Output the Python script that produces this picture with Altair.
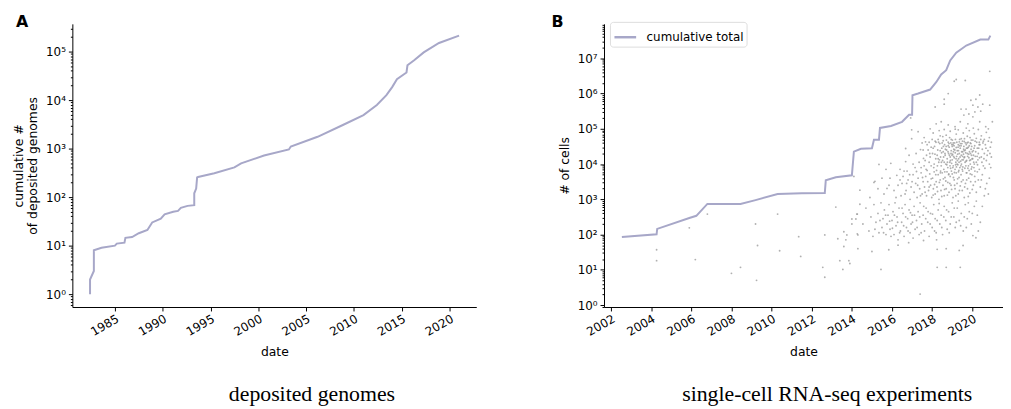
import altair as alt
import pandas as pd

# ---------------- Panel A: cumulative deposited genomes ----------------
genome_year = [1982.4, 1982.4, 1982.8, 1982.8, 1983.6, 1985.0, 1985.2, 1986.0, 1986.1, 1986.8,
               1987.5, 1988.4, 1988.9, 1989.8, 1990.2, 1991.1, 1991.6, 1991.9, 1992.6, 1993.3,
               1993.3, 1993.5, 1993.6, 1993.7, 1995.4, 1997.5, 1998.2, 2000.6, 2003.2, 2003.4,
               2006.2, 2008.9, 2011.0, 2012.4, 2013.4, 2014.0, 2014.5, 2015.5, 2015.6, 2016.3,
               2017.3, 2018.9, 2021.0]
genome_count = [1, 2, 3, 8, 9, 10, 11, 11.5, 14.5, 15,
                18, 21, 30, 36, 44, 50, 52, 60, 66, 68,
                120, 150, 255, 260, 310, 410, 495, 720, 960, 1100,
                1750, 3100, 4900, 7900, 12600, 18500, 27000, 37000, 52000, 66000,
                96000, 150000, 213000]

# ---------------- Panel B: single-cell RNA-seq experiments ----------------
cells_year = [2002.54, 2004.27, 2004.3, 2005.9, 2006.25, 2006.8, 2008.45, 2009.2, 2010.3, 2011.5,
              2012.65, 2012.7, 2013.2, 2014.0, 2014.1, 2014.45, 2015.0, 2015.1, 2015.35, 2015.4,
              2015.95, 2016.5, 2016.85, 2017.0, 2017.02, 2017.3, 2017.9, 2018.2, 2018.45, 2018.7,
              2018.9, 2019.2, 2019.7, 2020.4, 2020.8, 2020.9]
cells_total = [85, 102, 145, 296, 340, 740, 740, 950, 1410, 1480,
               1500, 3450, 4200, 4800, 22500, 27000, 28000, 49000, 49000, 106000,
               120000, 158000, 250000, 250000, 900000, 1.0e6, 1.3e6, 2.1e6, 3.5e6, 4.6e6,
               8.7e6, 1.45e7, 2.3e7, 3.4e7, 3.4e7, 4.4e7]

# individual experiments: (year, log10 # of cells)
scatter_early = [
    (2004.27, 1.57), (2004.27, 1.26), (2005.9, 2.19), (2006.2, 1.29), (2006.8, 2.58), (2008.0, 0.9),
    (2008.45, 1.07), (2009.2, 2.3), (2009.3, 1.69), (2009.25, 0.7), (2010.3, 2.58), (2010.4, 1.54),
    (2011.35, 1.94), (2011.45, 1.38), (2012.55, 1.07), (2012.65, 0.79), (2012.65, 1.99), (2013.2, 2.78),
    (2013.3, 1.88), (2013.4, 1.26), (2013.55, 1.01), (2013.6, 1.66), (2013.6, 2.08), (2013.7, 1.85),
    (2013.75, 1.99), (2013.85, 1.26), (2013.9, 1.18), (2014.0, 2.3), (2014.0, 2.44), (2014.1, 3.65),
    (2014.2, 2.44), (2014.25, 2.58), (2014.3, 1.99), (2014.4, 3.26), (2014.4, 2.86),
]
scatter_sparse_low = [
    (2015.0, 1.52), (2015.84, 1.57), (2018.7, 1.6), (2019.54, 1.69), (2016.83, 1.77), (2017.57, 1.83),
    (2015.45, 1.01), (2018.25, 1.07), (2018.7, 1.07), (2019.4, 1.07), (2017.4, 0.31), (2014.3, 1.6),
    (2016.3, 1.7), (2018.25, 1.58), (2019.35, 1.55), (2020.18, 1.91), (2020.03, 1.97), (2018.2, 2.05),
    (2014.27, 2.02), (2014.27, 2.58),
]
scatter_low = [
    (2014.55, 2.3), (2014.7, 2.75), (2014.85, 2.1), (2014.95, 2.5), (2015.05, 1.95), (2015.1, 2.85),
    (2015.2, 2.35), (2015.3, 2.6), (2015.35, 2.05), (2015.45, 2.9), (2015.5, 2.2), (2015.55, 2.45),
    (2015.62, 2.7), (2015.7, 2.0), (2015.75, 2.3), (2015.8, 2.55), (2015.85, 2.85), (2015.9, 2.15),
    (2015.95, 1.95), (2016.0, 2.4), (2016.05, 2.65), (2016.1, 2.0), (2016.15, 2.9), (2016.2, 2.25),
    (2016.25, 2.5), (2016.3, 1.85), (2016.35, 2.75), (2016.42, 2.1), (2016.48, 2.35), (2016.55, 2.6),
    (2016.6, 1.95), (2016.65, 2.85), (2016.72, 2.2), (2016.78, 2.45), (2016.85, 2.7), (2016.9, 2.05),
    (2016.95, 2.3), (2017.0, 2.55), (2017.05, 1.9), (2017.1, 2.8), (2017.15, 2.15), (2017.22, 2.4),
    (2017.3, 2.65), (2017.35, 2.0), (2017.4, 2.9), (2017.48, 2.3), (2017.55, 2.55), (2017.62, 2.1),
    (2017.7, 2.75), (2017.78, 2.35), (2017.85, 1.95), (2017.92, 2.6), (2018.0, 2.2), (2018.08, 2.85),
    (2018.15, 2.45), (2018.22, 1.85), (2018.3, 2.7), (2018.38, 2.3), (2018.45, 2.55), (2018.52, 2.0),
    (2018.6, 2.8), (2018.68, 2.4), (2018.75, 2.15), (2018.82, 2.65), (2018.9, 2.3), (2019.0, 2.9),
    (2019.08, 2.5), (2019.15, 2.2), (2019.25, 2.75), (2019.35, 2.4), (2019.45, 2.6), (2019.55, 2.1),
    (2019.65, 2.85), (2019.75, 2.45), (2019.85, 2.65), (2019.95, 2.3), (2020.1, 2.8), (2020.25, 2.55),
    (2020.4, 2.35), (2020.3, 2.1),
]
scatter_low2 = [
    (2015.15, 2.15), (2015.4, 2.4), (2015.58, 2.05), (2015.68, 2.55), (2015.88, 2.38), (2016.02, 2.18),
    (2016.12, 2.55), (2016.28, 2.35), (2016.38, 2.05), (2016.5, 2.75), (2016.58, 2.25), (2016.68, 2.5),
    (2016.8, 2.1), (2016.92, 2.62), (2017.02, 2.35), (2017.12, 2.55), (2017.25, 2.2), (2017.38, 2.5),
    (2017.45, 2.05), (2017.58, 2.8), (2017.68, 2.45), (2017.8, 2.65), (2017.9, 2.3), (2018.02, 2.58),
    (2018.12, 2.1), (2018.25, 2.4), (2018.35, 2.88), (2018.48, 2.2), (2018.58, 2.5), (2018.72, 2.7),
    (2018.85, 2.05), (2018.95, 2.5), (2019.1, 2.75), (2019.2, 2.35), (2019.3, 2.95), (2019.42, 2.25),
    (2019.6, 2.5), (2019.7, 2.2), (2019.8, 2.9), (2020.0, 2.6), (2020.2, 2.95), (2020.5, 2.8),
]
scatter_mid = [
    (2016.3, 3.4), (2016.45, 3.1), (2016.55, 3.65), (2016.7, 3.25), (2016.8, 3.55), (2016.9, 3.0),
    (2016.6, 3.8), (2016.95, 3.35), (2017.05, 3.7), (2017.1, 3.2), (2017.18, 3.45), (2017.25, 3.05),
    (2017.3, 3.6), (2017.38, 3.3), (2017.45, 3.75), (2017.5, 3.15), (2017.55, 3.5), (2017.15, 3.9),
    (2017.62, 3.35), (2017.68, 3.65), (2017.72, 3.1), (2017.78, 3.5), (2017.82, 3.25), (2017.88, 3.72),
    (2017.92, 3.4), (2017.98, 3.05), (2018.02, 3.6), (2018.06, 3.3), (2018.1, 3.78), (2018.15, 3.15),
    (2018.2, 3.5), (2018.24, 3.35), (2018.3, 3.7), (2018.34, 3.0), (2018.4, 3.55), (2018.44, 3.25),
    (2018.5, 3.75), (2018.54, 3.4), (2018.6, 3.1), (2018.64, 3.62), (2018.7, 3.3), (2018.74, 3.78),
    (2018.78, 3.48), (2018.84, 3.2), (2018.9, 3.65), (2018.94, 3.4), (2019.0, 3.72), (2019.04, 3.05),
    (2019.1, 3.55), (2019.14, 3.3), (2019.2, 3.75), (2019.24, 3.45), (2019.3, 3.15), (2019.34, 3.62),
    (2019.4, 3.38), (2019.44, 3.7), (2019.5, 3.25), (2019.54, 3.55), (2019.6, 3.05), (2019.66, 3.45),
    (2019.7, 3.75), (2019.76, 3.3), (2019.82, 3.6), (2019.88, 3.18), (2019.92, 3.5), (2019.98, 3.7),
    (2020.05, 3.4), (2020.12, 3.65), (2020.2, 3.2), (2020.3, 3.55), (2020.4, 3.35), (2020.5, 3.7),
    (2020.6, 3.1), (2020.72, 3.45), (2020.85, 3.6),
    (2015.1, 3.48), (2015.75, 3.31), (2016.24, 3.68), (2016.68, 4.07), (2016.73, 3.45), (2017.22, 3.79),
    (2015.35, 3.99), (2016.68, 4.44), (2015.94, 4.02), (2017.57, 4.16), (2017.42, 4.41), (2015.15, 3.51),
    (2015.6, 3.15), (2015.9, 3.6), (2016.1, 3.25), (2016.4, 3.85), (2016.5, 3.45), (2016.75, 3.8),
    (2016.85, 4.25), (2017.05, 4.0), (2017.2, 4.3), (2017.35, 4.05), (2017.45, 3.9), (2017.55, 4.4),
    (2015.3, 3.3), (2014.9, 3.05), (2015.7, 3.85),
]
scatter_mid2 = [
    (2017.52, 3.62), (2017.65, 3.2), (2017.75, 3.82), (2017.85, 3.35), (2017.95, 3.58), (2018.05, 3.12),
    (2018.12, 3.42), (2018.18, 3.7), (2018.27, 3.22), (2018.36, 3.48), (2018.42, 3.8), (2018.48, 3.08),
    (2018.56, 3.58), (2018.62, 3.28), (2018.68, 3.52), (2018.76, 3.12), (2018.82, 3.7), (2018.88, 3.45),
    (2018.97, 3.28), (2019.06, 3.62), (2019.12, 3.4), (2019.18, 3.1), (2019.27, 3.58), (2019.36, 3.25),
    (2019.46, 3.5), (2019.52, 3.8), (2019.62, 3.35), (2019.72, 3.55), (2019.8, 3.08), (2019.9, 3.72),
    (2020.0, 3.28), (2020.15, 3.5), (2020.25, 3.78), (2020.45, 3.55), (2020.65, 3.3), (2020.8, 3.15),
    (2016.4, 3.55), (2016.65, 3.15), (2016.88, 3.7), (2017.0, 3.5), (2017.28, 3.4), (2017.42, 3.1),
    (2016.2, 3.05), (2015.85, 3.4), (2015.5, 3.6),
]
scatter_core = [
    (2017.65, 4.1), (2017.7, 3.85), (2017.8, 4.4), (2017.9, 4.2), (2017.95, 3.95), (2017.75, 4.55),
    (2017.85, 4.05), (2018.02, 4.3), (2018.08, 3.9), (2018.12, 4.5), (2018.18, 4.15), (2018.22, 3.82),
    (2018.28, 4.4), (2018.33, 4.05), (2018.38, 4.58), (2018.25, 4.25), (2018.1, 4.0), (2018.42, 4.2),
    (2018.45, 3.95), (2018.48, 4.45), (2018.52, 4.1), (2018.55, 4.35), (2018.58, 3.85), (2018.62, 4.55),
    (2018.65, 4.25), (2018.68, 4.0), (2018.72, 4.4), (2018.75, 4.15), (2018.78, 3.9), (2018.5, 4.6),
    (2018.7, 4.5), (2018.6, 4.05), (2018.82, 4.3), (2018.85, 4.48), (2018.88, 4.05), (2018.9, 4.2),
    (2018.92, 3.88), (2018.95, 4.38), (2018.98, 4.55), (2019.0, 4.12), (2019.02, 4.28), (2019.05, 3.95),
    (2019.08, 4.42), (2019.1, 4.18), (2019.12, 4.6), (2019.15, 4.32), (2019.18, 4.05), (2019.2, 4.47),
    (2018.86, 4.25), (2018.96, 3.8), (2019.06, 4.35), (2019.14, 3.85), (2019.0, 4.5), (2018.93, 4.6),
    (2019.22, 4.22), (2019.25, 4.38), (2019.28, 3.98), (2019.3, 4.55), (2019.32, 4.15), (2019.35, 4.3),
    (2019.38, 3.9), (2019.4, 4.45), (2019.42, 4.08), (2019.45, 4.25), (2019.48, 4.58), (2019.5, 3.85),
    (2019.52, 4.35), (2019.55, 4.12), (2019.58, 4.5), (2019.26, 4.1), (2019.36, 4.52), (2019.46, 4.0),
    (2019.56, 4.28), (2019.33, 3.82), (2019.62, 4.2), (2019.65, 4.4), (2019.68, 3.95), (2019.7, 4.55),
    (2019.72, 4.1), (2019.75, 4.3), (2019.78, 3.88), (2019.8, 4.48), (2019.83, 4.18), (2019.86, 4.35),
    (2019.9, 4.0), (2019.93, 4.58), (2019.96, 4.25), (2019.98, 3.92), (2019.64, 4.05), (2019.74, 4.6),
    (2019.84, 3.82), (2019.94, 4.42), (2020.02, 4.15), (2020.05, 4.38), (2020.08, 3.9), (2020.12, 4.52),
    (2020.15, 4.22), (2020.2, 4.05), (2020.25, 4.45), (2020.3, 4.3), (2020.35, 3.85), (2020.38, 4.55),
    (2020.1, 4.0), (2020.28, 4.12), (2020.45, 4.2), (2020.5, 4.42), (2020.55, 3.95), (2020.6, 4.3),
    (2020.65, 4.55), (2020.7, 4.1), (2020.78, 4.38), (2020.85, 4.0), (2020.9, 4.48), (2020.95, 4.2),
]
scatter_core2 = [
    (2018.32, 4.62), (2018.36, 4.12), (2018.41, 3.75), (2018.47, 4.32), (2018.53, 4.78), (2018.57, 4.2),
    (2018.63, 3.78), (2018.66, 4.42), (2018.71, 4.68), (2018.76, 4.05), (2018.8, 4.52), (2018.83, 3.72),
    (2018.87, 4.75), (2018.91, 4.1), (2018.94, 4.3), (2018.97, 4.02), (2019.01, 4.68), (2019.03, 3.9),
    (2019.07, 4.22), (2019.09, 4.52), (2019.11, 3.76), (2019.13, 4.4), (2019.16, 4.7), (2019.19, 4.15),
    (2019.21, 3.92), (2019.23, 4.62), (2019.27, 4.28), (2019.29, 4.48), (2019.31, 3.78), (2019.34, 4.05),
    (2019.37, 4.7), (2019.39, 4.2), (2019.41, 4.58), (2019.43, 3.95), (2019.47, 4.35), (2019.49, 4.12),
    (2019.51, 4.65), (2019.53, 3.92), (2019.57, 4.42), (2019.59, 4.18), (2019.61, 4.72), (2019.63, 3.88),
    (2019.67, 4.32), (2019.69, 4.08), (2019.71, 4.45), (2019.73, 3.75), (2019.77, 4.22), (2019.79, 4.62),
    (2019.81, 3.95), (2019.85, 4.52), (2019.87, 4.1), (2019.89, 4.75), (2019.91, 4.3), (2019.95, 3.86),
    (2019.97, 4.5), (2019.99, 4.15), (2020.03, 4.68), (2020.06, 4.25), (2020.09, 4.45), (2020.13, 3.8),
    (2020.17, 4.35), (2020.22, 4.62), (2020.26, 3.98), (2020.32, 4.45), (2020.36, 4.18), (2020.42, 4.7),
    (2020.48, 4.05), (2020.53, 4.6), (2020.58, 4.15), (2020.63, 3.88), (2020.68, 4.45), (2020.74, 4.25),
    (2020.8, 4.65), (2020.88, 4.3), (2020.92, 3.9), (2018.05, 4.45), (2018.14, 4.28), (2018.19, 4.62),
    (2018.26, 3.95), (2018.3, 4.15), (2017.95, 4.48), (2017.88, 4.3), (2017.72, 4.25), (2017.6, 3.95),
    (2018.4, 4.38), (2018.46, 4.05), (2018.56, 4.5), (2018.64, 4.3), (2018.73, 3.98), (2018.79, 4.35),
    (2018.84, 4.58), (2018.89, 3.95), (2018.99, 4.25), (2019.04, 4.55), (2019.17, 3.98), (2019.24, 4.0),
    (2019.31, 4.38), (2019.44, 4.52), (2019.52, 4.22), (2019.6, 4.38), (2019.66, 4.6), (2019.76, 4.45),
    (2019.82, 4.28), (2019.92, 4.12), (2020.0, 4.35), (2020.07, 4.05), (2020.14, 4.65), (2020.24, 4.22),
    (2020.34, 4.55),
]
scatter_upper = [
    (2017.6, 4.75), (2017.85, 4.62), (2018.05, 4.88), (2018.3, 4.7), (2018.35, 4.95), (2018.55, 4.66),
    (2018.7, 4.82), (2018.9, 4.93), (2018.95, 4.7), (2019.05, 4.6), (2019.2, 4.85), (2019.3, 4.97),
    (2019.45, 4.72), (2019.55, 4.88), (2019.6, 4.64), (2019.75, 4.79), (2019.85, 4.95), (2019.95, 4.68),
    (2020.1, 4.86), (2020.2, 4.73), (2020.3, 4.98), (2020.45, 4.8), (2020.55, 4.65), (2020.7, 4.9),
    (2020.85, 4.75), (2020.95, 4.62), (2018.15, 4.65), (2018.8, 4.62), (2019.35, 4.63), (2019.9, 4.6),
    (2020.6, 4.7), (2019.15, 4.99), (2018.6, 4.98), (2020.05, 5.02), (2020.8, 5.0), (2017.5, 4.6),
    (2018.0, 4.7), (2019.7, 5.02), (2020.35, 4.62), (2018.4, 4.8), (2016.98, 4.72), (2017.67, 4.63),
]
scatter_top = [
    (2020.87, 6.63), (2019.2, 6.4), (2019.1, 6.35), (2019.65, 6.37), (2018.8, 6.0), (2018.6, 5.84),
    (2018.6, 5.7), (2018.15, 5.62), (2019.93, 5.81), (2020.18, 5.84), (2020.37, 5.96), (2020.52, 5.7),
    (2020.87, 5.67), (2020.03, 5.67), (2020.28, 5.62), (2020.42, 5.5), (2020.13, 5.48), (2019.83, 5.42),
    (2019.58, 5.39), (2020.03, 5.34), (2019.44, 5.56), (2019.69, 5.56), (2016.93, 5.31), (2016.98, 4.97),
    (2017.3, 4.92), (2018.2, 5.14), (2018.45, 5.2), (2017.9, 5.0), (2018.8, 5.11), (2019.14, 5.06),
    (2019.4, 5.2), (2019.78, 5.14), (2020.37, 5.2), (2020.67, 5.06), (2021.0, 5.2),
]

# axis ticks
years_A = [1985, 1990, 1995, 2000, 2005, 2010, 2015, 2020]
years_B = [2002, 2004, 2006, 2008, 2010, 2012, 2014, 2016, 2018, 2020]
decades_A = [1, 10, 100, 1000, 10000, 100000]
decades_B = [1, 10, 100, 1000, 10000, 100000, 1000000, 10000000]
minor_A = [m * 10 ** e for e in range(-1, 6) for m in range(2, 10) if 0.55 < m * 10 ** e < 3.7e5]
minor_B = [m * 10 ** e for e in range(-1, 8) for m in range(2, 10) if 0.88 < m * 10 ** e < 9.5e7]

LINE = "#a7a7c8"
FONT = "DejaVu Sans"

IS_DECADE = "abs(log(datum.value)/LN10 - round(log(datum.value)/LN10)) < 0.001"
SUP = "['10⁰','10¹','10²','10³','10⁴','10⁵','10⁶','10⁷'][round(log(datum.value)/LN10)]"


def y_axis(title, values):
    return alt.Axis(
        values=values, title=title, labelExpr=f"{IS_DECADE} ? {SUP} : ''",
        tickSize={"condition": {"test": IS_DECADE, "value": 4}, "value": 2},
        labelOverlap=False, grid=False, labelFontSize=12, titleFontSize=12.5,
        titleFontWeight="normal", labelPadding=3, titlePadding=6,
    )


def x_axis(values):
    return alt.Axis(
        values=values, title="date", format="d", labelAngle=330, labelAlign="right",
        labelBaseline="top", labelFlush=False, labelOverlap=False, grid=False,
        labelFontSize=12, titleFontSize=12.5, titleFontWeight="normal", tickSize=4,
        labelPadding=2, titlePadding=8,
    )


def panel_label(letter, dx):
    return alt.Chart(pd.DataFrame({"t": [letter]})).mark_text(
        font=FONT, fontSize=16, fontWeight="bold", align="left", baseline="alphabetic", color="black"
    ).encode(x=alt.value(dx), y=alt.value(3), text="t:N")


# ---- Panel A ----
dfA = pd.DataFrame({"year": genome_year, "count": genome_count, "idx": range(len(genome_year))})
lineA = alt.Chart(dfA).mark_line(color=LINE, strokeWidth=2).encode(
    x=alt.X("year:Q", scale=alt.Scale(domain=[1980.55, 2022.8], nice=False, zero=False),
            axis=x_axis(years_A)),
    y=alt.Y("count:Q", scale=alt.Scale(type="log", domain=[0.543, 3.72e5], nice=False),
            axis=y_axis(["cumulative #", "of deposited genomes"], sorted(decades_A + minor_A))),
    order="idx:Q",
)
chartA = alt.layer(lineA, panel_label("A", -57)).properties(
    width=408, height=286,
    title=alt.TitleParams("deposited genomes", orient="bottom", anchor="middle", frame="group",
                          font="Liberation Serif", fontSize=22, fontWeight="normal", color="black",
                          offset=27, dx=38),
)

# ---- Panel B ----
pts = (scatter_early + scatter_sparse_low + scatter_low + scatter_low2 + scatter_mid + scatter_mid2
       + scatter_core + scatter_core2 + scatter_upper + scatter_top)
dfS = pd.DataFrame({"year": [p[0] for p in pts], "cells": [10 ** p[1] for p in pts]})
dfB = pd.DataFrame({"year": cells_year, "cells": cells_total, "idx": range(len(cells_year)),
                    "series": ["cumulative total"] * len(cells_year)})

xB = alt.X("year:Q", scale=alt.Scale(domain=[2001.65, 2021.53], nice=False, zero=False),
           axis=x_axis(years_B))
yB = alt.Y("cells:Q", scale=alt.Scale(type="log", domain=[0.88, 9.5e7], nice=False),
           axis=y_axis("# of cells", sorted(decades_B + minor_B)))

scatB = alt.Chart(dfS).mark_circle(size=3.5, color="#959595", opacity=0.75).encode(x=xB, y=yB)
lineB = alt.Chart(dfB).mark_line(strokeWidth=2).encode(
    x=xB, y=yB, order="idx:Q",
    color=alt.Color("series:N", scale=alt.Scale(range=[LINE]),
                    legend=alt.Legend(title=None, orient="none", legendX=6, legendY=-2,
                                      symbolType="stroke",
                                      symbolStrokeWidth=2.5, symbolSize=480, labelFontSize=12,
                                      labelFont=FONT, labelColor="black", strokeColor="#dddddd",
                                      fillColor="white", padding=3, cornerRadius=3, labelOffset=9)),
)
chartB = alt.layer(scatB, lineB, panel_label("B", -53)).properties(
    width=403, height=286,
    title=alt.TitleParams("single-cell RNA-seq experiments", orient="bottom", anchor="middle",
                          frame="group", font="Liberation Serif", fontSize=22, fontWeight="normal",
                          color="black", offset=27, dx=24),
)

chart = alt.hconcat(chartA, chartB, spacing=76).resolve_legend(color="independent").properties(
    padding={"left": 4, "top": 4, "right": 0, "bottom": 0}
).configure_view(stroke=None).configure_axis(
    domainColor="black", tickColor="black", labelColor="black", titleColor="black",
    labelFont=FONT, titleFont=FONT, domainWidth=1, tickWidth=1,
)

chart.save("out.html", embed_options={"renderer": "svg", "actions": False})
